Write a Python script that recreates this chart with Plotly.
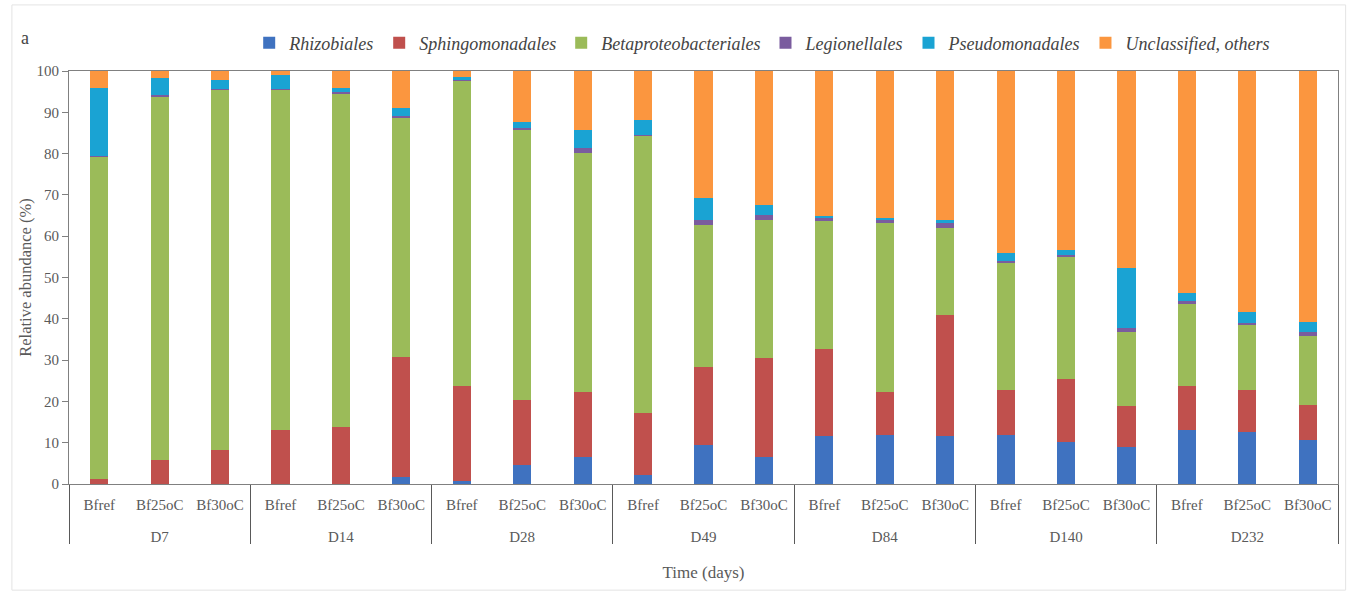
import plotly.graph_objects as go

# Sampling days and incubation conditions
days = ["D7", "D14", "D28", "D49", "D84", "D140", "D232"]
samples = ["Bfref", "Bf25oC", "Bf30oC"]

# Relative abundance (%) of each order, one value per day/condition bar
rhizobiales = [0.0, 0.0, 0.0, 0.0, 0.0, 1.8, 0.8, 4.6, 6.5, 2.2, 9.4, 6.6,
               11.6, 11.9, 11.6, 11.9, 10.2, 9.0, 13.1, 12.7, 10.7]
sphingomonadales = [1.1, 5.8, 8.2, 13.1, 13.9, 29.0, 22.9, 15.7, 15.8, 15.1, 19.0, 23.8,
                    21.2, 10.4, 29.3, 10.9, 15.2, 10.0, 10.6, 10.1, 8.4]
betaproteobacteriales = [78.2, 88.1, 87.2, 82.3, 80.7, 58.0, 74.0, 65.4, 57.8, 67.0, 34.3, 33.5,
                         30.9, 41.0, 21.0, 30.8, 29.6, 17.9, 20.0, 15.9, 16.7]
legionellales = [0.2, 0.2, 0.2, 0.3, 0.2, 0.4, 0.2, 0.5, 1.2, 0.3, 1.2, 1.2,
                 0.9, 0.8, 1.2, 0.5, 0.5, 0.8, 0.5, 0.4, 1.1]
pseudomonadales = [16.3, 4.1, 2.2, 3.3, 1.2, 1.8, 0.6, 1.5, 4.4, 3.5, 5.3, 2.5,
                   0.4, 0.3, 0.8, 1.9, 1.2, 14.5, 2.0, 2.5, 2.4]
unclassified = [4.2, 1.8, 2.2, 1.0, 4.0, 9.0, 1.5, 12.3, 14.3, 11.9, 30.8, 32.4,
                35.0, 35.6, 36.1, 44.0, 43.3, 47.8, 53.8, 58.4, 60.7]

y_ticks = [0, 10, 20, 30, 40, 50, 60, 70, 80, 90, 100]

series = [
    ("Rhizobiales", rhizobiales, "#3F72C0"),
    ("Sphingomonadales", sphingomonadales, "#C0504D"),
    ("Betaproteobacteriales", betaproteobacteriales, "#9BBB59"),
    ("Legionellales", legionellales, "#7A5C9E"),
    ("Pseudomonadales", pseudomonadales, "#1AA3D3"),
    ("Unclassified, others", unclassified, "#FB963F"),
]

n_s = len(samples)
n_bars = len(days) * n_s
positions = list(range(n_bars))
inner_labels = samples * len(days)
group_centers = [g * n_s + (n_s - 1) / 2 for g in range(len(days))]
group_edges = [g * n_s - 0.5 for g in range(len(days) + 1)]

SERIF = "Liberation Serif, Times New Roman, serif"
GREY = "#5a5a5a"
AXIS = "#808080"

fig = go.Figure()
for name, vals, color in series:
    fig.add_trace(go.Bar(
        x=positions, y=vals, name=f"<i>{name}</i>",
        marker=dict(color=color, line=dict(width=0)),
    ))

# invisible helper trace so the group-label axis is drawn
fig.add_trace(go.Scatter(x=[group_centers[0]], y=[0], xaxis="x2", mode="markers",
                         marker=dict(opacity=0), showlegend=False, hoverinfo="skip"))

fig.update_layout(
    barmode="stack",
    bargap=0.70,
    width=1351, height=596,
    margin=dict(l=69, r=13, t=71, b=112, autoexpand=False),
    paper_bgcolor="white", plot_bgcolor="white",
    font=dict(family=SERIF, color=GREY, size=15),
    legend=dict(
        orientation="h", x=0.142, xanchor="left",
        yref="container", y=1 - 43 / 596, yanchor="middle",
        font=dict(family=SERIF, size=18, color="#444444"),
        traceorder="normal", itemwidth=30,
        bgcolor="rgba(0,0,0,0)",
    ),
    xaxis=dict(
        range=[-0.5, n_bars - 0.5], tickmode="array", tickvals=positions,
        ticktext=inner_labels, ticks="", ticklabelstandoff=7,
        showline=True, linecolor=AXIS, linewidth=1.2, mirror=True,
        showgrid=False, zeroline=False,
        tickfont=dict(family=SERIF, size=15, color=GREY),
        minor=dict(tickmode="array", tickvals=group_edges, ticks="outside",
                   ticklen=59, tickwidth=1.2, tickcolor="#595959", showgrid=False),
    ),
    xaxis2=dict(
        overlaying="x", matches="x", side="bottom", anchor="y",
        tickmode="array", tickvals=group_centers, ticktext=days, ticks="",
        ticklabelstandoff=42, showline=False, showgrid=False, zeroline=False,
        tickfont=dict(family=SERIF, size=15, color=GREY),
        title=dict(text="Time (days)", standoff=22,
                   font=dict(family=SERIF, size=17, color=GREY)),
    ),
    yaxis=dict(
        range=[0, 100], tickvals=y_ticks, ticks="outside", ticklen=6,
        tickcolor=AXIS, showline=True, linecolor=AXIS, linewidth=1.2,
        mirror=True, showgrid=False, zeroline=False,
        tickfont=dict(family=SERIF, size=15, color=GREY),
        title=dict(text="Relative abundance (%)", standoff=0,
                   font=dict(family=SERIF, size=16.5, color=GREY)),
    ),
)

# panel tag
fig.add_annotation(text="a", xref="paper", yref="paper", x=-0.0347, y=1.080,
                   xanchor="center", yanchor="middle",
                   showarrow=False, font=dict(family=SERIF, size=18, color="#444444"))

# faint outer frame around the whole figure
fig.add_shape(type="rect", xref="paper", yref="paper",
              x0=-0.045, x1=1.006, y0=-0.257, y1=1.16,
              line=dict(color="#e4e4e4", width=1), layer="below")

fig.write_html("out.html")
